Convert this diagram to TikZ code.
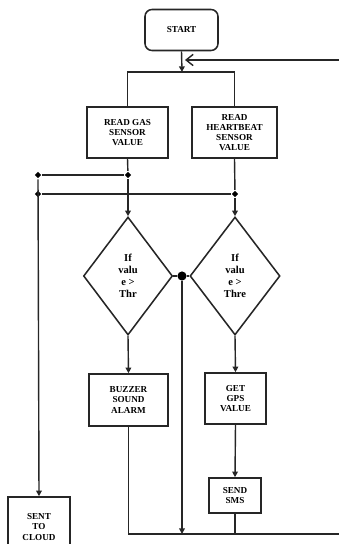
\documentclass[tikz,border=0pt]{standalone}
\usepackage{fontspec}
\setmainfont{Liberation Serif}
\usetikzlibrary{shapes.geometric,arrows.meta}
\begin{document}
\begin{tikzpicture}[x=0.025cm,y=-0.025cm,line width=1pt,draw=black!85,
every node/.style={draw,line width=1.1pt,align=center,inner sep=1pt,font=\bfseries\fontsize{6.5}{7.3}\selectfont},
dec/.style={diamond,inner sep=0pt,font=\bfseries\fontsize{7.5}{8.6}\selectfont},
dot/.style={diamond,fill=black,draw=none,inner sep=0pt,minimum size=5pt},
bigdot/.style={circle,fill=black,draw=none,inner sep=0pt,minimum size=6.5pt},
tip/.style={-{Triangle[width=4pt,length=4pt]}}]
\useasboundingbox (0,0) rectangle (339,544);
\node[rounded corners=5pt,minimum width=1.825cm,minimum height=1.025cm] (start) at (181.5,30) {START};
\node[minimum width=2.025cm,minimum height=1.275cm] (gas) at (127.5,132.5) {READ GAS\\SENSOR\\VALUE};
\node[minimum width=2.125cm,minimum height=1.275cm] (heart) at (234.5,132.5) {READ\\HEARTBEAT\\SENSOR\\VALUE};
\node[dec,minimum width=2.225cm,minimum height=2.95cm] (ifgas) at (128,276) {If\\valu\\e >\\Thr};
\node[dec,minimum width=2.25cm,minimum height=2.95cm] (ifheart) at (235,276) {If\\valu\\e >\\Thre};
\node[minimum width=1.975cm,minimum height=1.3cm] (buzz) at (128.5,400) {BUZZER\\SOUND\\ALARM};
\node[minimum width=1.525cm,minimum height=1.275cm] (gps) at (235.5,398.5) {GET\\GPS\\VALUE};
\node[minimum width=1.3cm,minimum height=0.875cm] (sms) at (235,495.5) {SEND\\SMS};
\node[minimum width=1.55cm,minimum height=1.5cm] (cloud) at (39,527) {SENT\\TO\\CLOUD};
% junctions
\coordinate (top) at (182,72);
\coordinate (back) at (339,60);
\coordinate (end) at (339,534);
\node[dot] (g1) at (128,175) {};
\node[dot] (g0) at (38,175) {};
\node[dot] (h1) at (235,194) {};
\node[dot] (h0) at (38,194) {};
\node[bigdot] (mid) at (182,276) {};
\draw[tip] (start.south)--(top);\draw[-{Straight Barb[length=5pt,width=8pt]}] (back)--(185,60);
\draw (gas.north)--(gas.north|-top)--(heart.north|-top)--(heart.north);
\draw (gas.south)--(g1);\draw (g1)--(g0);\draw (heart.south)--(h1);\draw (h1)--(h0);
\draw[tip] (g1)--(ifgas.north);\draw[tip] (h1)--(ifheart.north);\draw[tip] (g0)--(cloud.north);
\draw (ifgas.east)--(mid);\draw (mid)--(ifheart.west);\draw[tip] (mid)--(182,534);
\draw[tip] (ifgas.south)--(buzz.north);\draw[tip] (ifheart.south)--(gps.north);\draw[tip] (gps.south)--(sms.north);
\draw (buzz.south)|-(end);\draw (sms.south)--(235,534);
\end{tikzpicture}
\end{document}
